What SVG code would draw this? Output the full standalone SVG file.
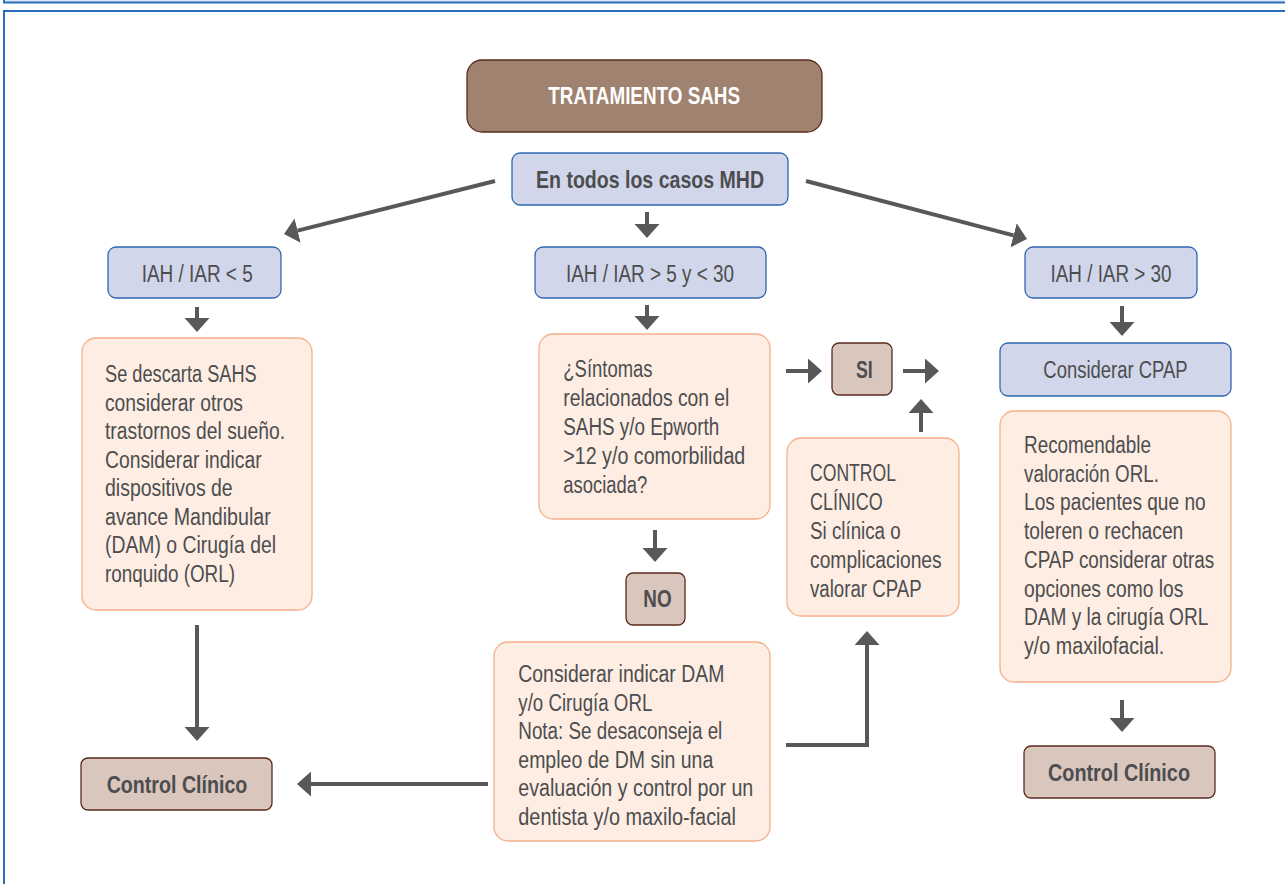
<svg xmlns="http://www.w3.org/2000/svg" width="1285" height="884" viewBox="0 0 1285 884">
<defs>
<marker id="ah" markerUnits="userSpaceOnUse" markerWidth="14" markerHeight="25" refX="0" refY="12.5" orient="auto" viewBox="0 0 14 25">
<path d="M0,0 L14,12.5 L0,25 Z" fill="#58585a"/>
</marker>
<style>
text{font-family:"Liberation Sans",Arial,sans-serif;fill:#4d4d4f}
.t{font-size:23px}
.b{font-size:24.5px;font-weight:bold}
.c{text-anchor:middle}
.blue{fill:#d1d6ea;stroke:#2e67b1;stroke-width:1.3}
.org{fill:#fdede3;stroke:#f5b08a;stroke-width:1.3}
.brn{fill:#d9c6bd;stroke:#5b2a1c;stroke-width:1.3}
.conn line,.conn path{stroke:#58585a;stroke-width:4;fill:none;marker-end:url(#ah)}
</style>
</defs>
<rect x="0" y="0" width="1285" height="884" fill="#ffffff"/>
<rect x="4" y="-20" width="1400" height="22.5" fill="#dce6f4" stroke="#2a6ebb" stroke-width="2"/>
<rect x="4" y="11" width="1400" height="1000" fill="none" stroke="#2a6ebb" stroke-width="2"/>

<g class="conn">
<line x1="495" y1="181" x2="297.6" y2="230.6"/>
<line x1="806" y1="181" x2="1013.5" y2="235.4"/>
<line x1="647" y1="212" x2="647" y2="224"/>
<line x1="197" y1="307" x2="197" y2="318"/>
<line x1="647" y1="305" x2="647" y2="316"/>
<line x1="1122" y1="306" x2="1122" y2="322"/>
<line x1="655" y1="530" x2="655" y2="548"/>
<line x1="786" y1="371" x2="808" y2="371"/>
<line x1="903" y1="371" x2="925" y2="371"/>
<line x1="921" y1="432" x2="921" y2="413"/>
<path d="M786,745 H867 V645"/>
<line x1="197" y1="625" x2="197" y2="727"/>
<line x1="488" y1="784" x2="311" y2="784"/>
<line x1="1122" y1="700" x2="1122" y2="718"/>
</g>

<g id="n-title">
<rect x="467" y="60" width="355" height="72" rx="15" fill="#a08270" stroke="#5b2a1c" stroke-width="1.3"/>
<text x="644.2" y="104" class="c" style="fill:#ffffff;font-size:23px;font-weight:bold" textLength="191.7" lengthAdjust="spacingAndGlyphs">TRATAMIENTO SAHS</text>
</g>
<g id="n-mhd">
<rect x="512" y="153" width="276" height="52" rx="8" class="blue"/>
<text x="650" y="188.3" class="b c" textLength="228" lengthAdjust="spacingAndGlyphs">En todos los casos MHD</text>
</g>
<g id="n-iah5">
<rect x="108" y="247" width="173" height="51" rx="8" class="blue"/>
<text x="197.2" y="281.7" class="t c" textLength="111" lengthAdjust="spacingAndGlyphs">IAH / IAR &lt; 5</text>
</g>
<g id="n-iah5-30">
<rect x="535" y="247" width="231" height="51" rx="8" class="blue"/>
<text x="650" y="281.7" class="t c" textLength="168" lengthAdjust="spacingAndGlyphs">IAH / IAR &gt; 5 y &lt; 30</text>
</g>
<g id="n-iah30">
<rect x="1025" y="247" width="172" height="51" rx="8" class="blue"/>
<text x="1111" y="281.7" class="t c" textLength="121" lengthAdjust="spacingAndGlyphs">IAH / IAR &gt; 30</text>
</g>
<g id="n-left" class="t">
<rect x="82" y="338" width="230" height="272" rx="14" class="org"/>
<text x="105" y="382" class="t" textLength="151.7" lengthAdjust="spacingAndGlyphs">Se descarta SAHS</text>
<text x="105" y="410.5" class="t" textLength="138" lengthAdjust="spacingAndGlyphs">considerar otros</text>
<text x="105" y="439" class="t" textLength="180" lengthAdjust="spacingAndGlyphs">trastornos del sueño.</text>
<text x="105" y="467.5" class="t" textLength="156.7" lengthAdjust="spacingAndGlyphs">Considerar indicar</text>
<text x="105" y="496" class="t" textLength="127.7" lengthAdjust="spacingAndGlyphs">dispositivos de</text>
<text x="105" y="524.5" class="t" textLength="165.7" lengthAdjust="spacingAndGlyphs">avance Mandibular</text>
<text x="105" y="553" class="t" textLength="171" lengthAdjust="spacingAndGlyphs">(DAM) o Cirugía del</text>
<text x="105" y="581.5" class="t" textLength="130" lengthAdjust="spacingAndGlyphs">ronquido (ORL)</text>
</g>
<g id="n-q">
<rect x="539" y="334" width="231" height="185" rx="14" class="org"/>
<text x="563.3" y="377" class="t" textLength="89.3" lengthAdjust="spacingAndGlyphs">¿Síntomas</text>
<text x="563.3" y="406" class="t" textLength="166" lengthAdjust="spacingAndGlyphs">relacionados con el</text>
<text x="563.3" y="435" class="t" textLength="156" lengthAdjust="spacingAndGlyphs">SAHS y/o Epworth</text>
<text x="563.3" y="464" class="t" textLength="182" lengthAdjust="spacingAndGlyphs">&gt;12 y/o comorbilidad</text>
<text x="563.3" y="493" class="t" textLength="84" lengthAdjust="spacingAndGlyphs">asociada?</text>
</g>
<g id="n-si">
<rect x="832" y="343" width="60" height="52" rx="7" class="brn"/>
<text x="864.3" y="378.3" class="b c" textLength="16.7" lengthAdjust="spacingAndGlyphs">SI</text>
</g>
<g id="n-no">
<rect x="626" y="573" width="59" height="52" rx="7" class="brn"/>
<text x="657.5" y="607.3" class="b c" textLength="28.3" lengthAdjust="spacingAndGlyphs">NO</text>
</g>
<g id="n-control">
<rect x="787" y="438" width="172" height="178" rx="14" class="org"/>
<text x="810" y="481" class="t" textLength="86" lengthAdjust="spacingAndGlyphs">CONTROL</text>
<text x="810" y="510" class="t" textLength="72.7" lengthAdjust="spacingAndGlyphs">CLÍNICO</text>
<text x="810" y="539" class="t" textLength="90.7" lengthAdjust="spacingAndGlyphs">Si clínica o</text>
<text x="810" y="568" class="t" textLength="131.7" lengthAdjust="spacingAndGlyphs">complicaciones</text>
<text x="810" y="597" class="t" textLength="111.7" lengthAdjust="spacingAndGlyphs">valorar CPAP</text>
</g>
<g id="n-cpap">
<rect x="1000" y="343" width="231" height="53" rx="8" class="blue"/>
<text x="1115.5" y="378.3" class="t c" textLength="144.3" lengthAdjust="spacingAndGlyphs">Considerar CPAP</text>
</g>
<g id="n-right">
<rect x="1000" y="411" width="231" height="271" rx="14" class="org"/>
<text x="1024" y="453" class="t" textLength="127" lengthAdjust="spacingAndGlyphs">Recomendable</text>
<text x="1024" y="481.7" class="t" textLength="135" lengthAdjust="spacingAndGlyphs">valoración ORL.</text>
<text x="1024" y="510.4" class="t" textLength="181.7" lengthAdjust="spacingAndGlyphs">Los pacientes que no</text>
<text x="1024" y="539" class="t" textLength="159.3" lengthAdjust="spacingAndGlyphs">toleren o rechacen</text>
<text x="1024" y="567.8" class="t" textLength="190.3" lengthAdjust="spacingAndGlyphs">CPAP considerar otras</text>
<text x="1024" y="596.5" class="t" textLength="159.3" lengthAdjust="spacingAndGlyphs">opciones como los</text>
<text x="1024" y="625.2" class="t" textLength="184.3" lengthAdjust="spacingAndGlyphs">DAM y la cirugía ORL</text>
<text x="1024" y="654" class="t" textLength="140.3" lengthAdjust="spacingAndGlyphs">y/o maxilofacial.</text>
</g>
<g id="n-bottom">
<rect x="494" y="642" width="276" height="199" rx="14" class="org"/>
<text x="518.3" y="682" class="t" textLength="206" lengthAdjust="spacingAndGlyphs">Considerar indicar DAM</text>
<text x="518.3" y="710.5" class="t" textLength="134" lengthAdjust="spacingAndGlyphs">y/o Cirugía ORL</text>
<text x="518.3" y="739" class="t" textLength="204" lengthAdjust="spacingAndGlyphs">Nota: Se desaconseja el</text>
<text x="518.3" y="767.5" class="t" textLength="195" lengthAdjust="spacingAndGlyphs">empleo de DM sin una</text>
<text x="518.3" y="796" class="t" textLength="235" lengthAdjust="spacingAndGlyphs">evaluación y control por un</text>
<text x="518.3" y="824.5" class="t" textLength="217.7" lengthAdjust="spacingAndGlyphs">dentista y/o maxilo-facial</text>
</g>
<g id="n-cc-left">
<rect x="81" y="758" width="191" height="52" rx="7" class="brn"/>
<text x="177" y="793.3" class="b c" textLength="140.7" lengthAdjust="spacingAndGlyphs">Control Clínico</text>
</g>
<g id="n-cc-right">
<rect x="1024" y="746" width="191" height="52" rx="7" class="brn"/>
<text x="1119" y="781.3" class="b c" textLength="142" lengthAdjust="spacingAndGlyphs">Control Clínico</text>
</g>
</svg>
